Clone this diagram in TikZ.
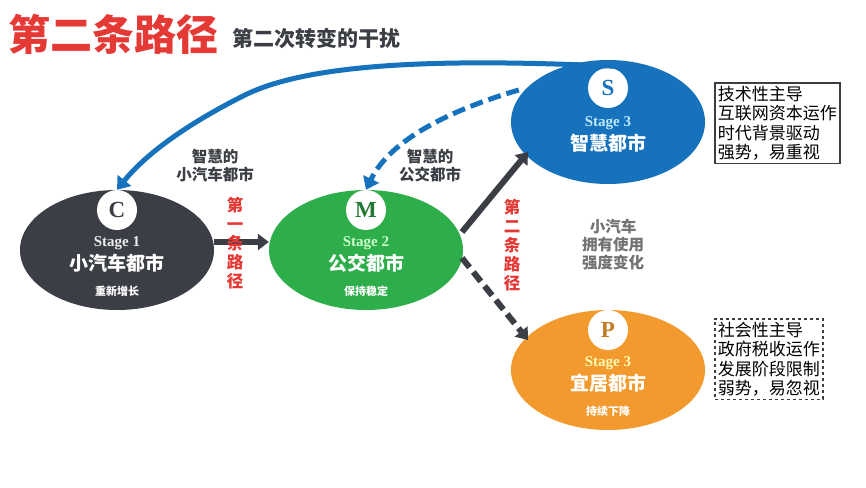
\documentclass[tikz,border=0pt]{standalone}
\usepackage{fontspec}
\setmainfont{Liberation Serif}
\newfontfamily\cjk{Noto Sans CJK SC}
\usetikzlibrary{arrows.meta,shapes.geometric}
\definecolor{cdark}{HTML}{3B3E44}
\definecolor{cgreen}{HTML}{2DAE4A}
\definecolor{cblue}{HTML}{1672BD}
\definecolor{corange}{HTML}{F39A2E}
\definecolor{cred}{HTML}{E53935}
\begin{document}
\begin{tikzpicture}[x=1pt,y=-1pt,
  stage/.style={ellipse,draw=none,minimum width=194pt,minimum height=120pt,inner sep=0},
  badge/.style={circle,fill=white,minimum size=40pt,inner sep=0,font=\bfseries\fontsize{23}{23}\selectfont},
  stg/.style={font=\bfseries\fontsize{15}{15}\selectfont},
  nm/.style={font=\cjk\bfseries\fontsize{19}{19}\selectfont,text=white},
  sub/.style={font=\cjk\bfseries\fontsize{11}{11}\selectfont,text=white},
  box/.style={draw=cdark,line width=1.5pt,align=left,inner sep=3pt,font=\cjk\fontsize{17}{19.5}\selectfont,text=black},
  arr/.style={line width=6pt,cdark,-{Triangle[length=11pt,width=16pt]}},
  lbl/.style={font=\cjk\bfseries\fontsize{15.5}{18}\selectfont,text=cdark,align=center},
  vlbl/.style={font=\cjk\bfseries\fontsize{16.5}{19}\selectfont,text=cred,align=center}]
\useasboundingbox[fill=white] (0,0) rectangle (866,487);
\node[anchor=west,font=\cjk\bfseries\fontsize{42}{42}\selectfont,text=cred] (title) at (5,34) {第二条路径};
\node[anchor=west,font=\cjk\bfseries\fontsize{21}{21}\selectfont,text=cdark] (subt) at (229,38) {第二次转变的干扰};
% ellipses
\node[stage,fill=cdark] (C) at (117,250) {};
\node[stage,fill=cgreen] (M) at (366,250) {};
\node[stage,fill=cblue,minimum height=124pt] (S) at (608,122) {};
\node[stage,fill=corange] (P) at (608,370) {};
\node[badge,text=cdark] (Cb) at (117,210) {C};
\node[badge,text=cgreen!70!black] (Mb) at (366,210) {M};
\node[badge,text=cblue] (Sb) at (608,88) {S};
\node[badge,text=corange!80!black] (Pb) at (608,330) {P};
\node[stg,text=white!85!gray] (Ct) at (117,243) {Stage 1};
\node[nm] (Cn) at (117,263) {小汽车都市};
\node[sub] (Cs) at (117,291) {重新增长};
\node[stg,text=green!20!white] (Mt) at (366,243) {Stage 2};
\node[nm] (Mn) at (366,263) {公交都市};
\node[sub] (Ms) at (366,291) {保持稳定};
\node[stg,text=cyan!25!white] (St) at (608,123) {Stage 3};
\node[nm] (Sn) at (608,143) {智慧都市};
\node[stg,text=yellow!30!white] (Pt) at (608,363) {Stage 3};
\node[nm] (Pn) at (608,383) {宜居都市};
\node[sub] (Ps) at (608,411) {持续下降};
% boxes
\node[box,anchor=north west] (Sbox) at (714,82) {技术性主导\\互联网资本运作\\时代背景驱动\\强势，易重视};
\node[box,dashed,anchor=north west] (Pbox) at (714,318) {社会性主导\\政府税收运作\\发展阶段限制\\弱势，易忽视};
% arrows
\draw[arr] (C.east |- 0,242) -- (M.west |- 0,242);
\draw[arr] (462,232) -- (528,152);
\draw[arr,dash pattern=on 12pt off 6pt] (462,258) -- (528,340);
\draw[line width=5pt,cblue,-{Triangle[length=12pt,width=17pt]}] (S.north) ++(20,7) .. controls (480,60) and (320,58) .. (245,95) .. controls (185,125) and (145,155) .. (C.north);
\draw[line width=5pt,cblue,dash pattern=on 13pt off 6pt,-{Triangle[length=12pt,width=17pt]}] (S.west) ++(8,-32) .. controls (450,110) and (390,140) .. (M.north);
% labels
\node[vlbl] (l1) at (235,243) {第\\一\\条\\路\\径};
\node[vlbl] (l2) at (512,245) {第\\二\\条\\路\\径};
\node[lbl,text=gray!90!black] (mid) at (613,245) {小汽车\\拥有使用\\强度变化};
\node[lbl] (w1) at (215,166) {智慧的\\小汽车都市};
\node[lbl] (w2) at (430,166) {智慧的\\公交都市};
\end{tikzpicture}
\end{document}
